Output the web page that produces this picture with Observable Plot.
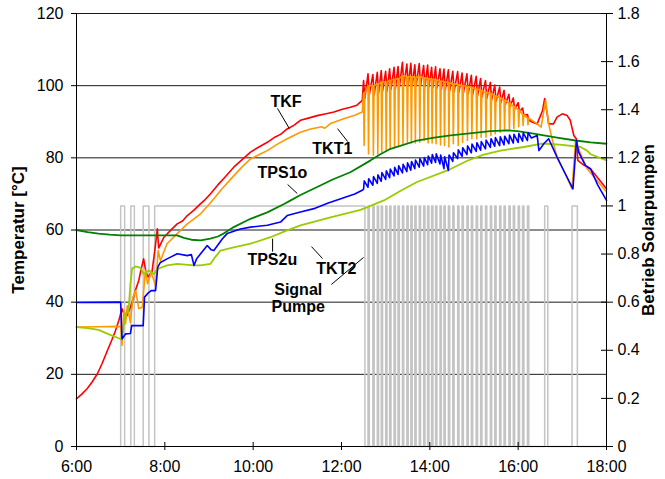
<!DOCTYPE html>
<html><head><meta charset="utf-8">
<script src="https://cdn.jsdelivr.net/npm/d3@7"></script>
<script src="https://cdn.jsdelivr.net/npm/@observablehq/plot@0.6"></script>
<style>body{margin:0;background:#fff}#chart{width:665px;height:479px}</style>
</head><body><div id="chart"></div>
<script>
// ---- axes ----
const xTicks = [6, 8, 10, 12, 14, 16, 18];
const xTickLabels = ["6:00", "8:00", "10:00", "12:00", "14:00", "16:00", "18:00"];
const yTicks = [0, 20, 40, 60, 80, 100, 120];
const rightTicks = [0, 0.2, 0.4, 0.6, 0.8, 1, 1.2, 1.4, 1.6, 1.8];
const rightTickLabels = ["0", "0.2", "0.4", "0.6", "0.8", "1", "1.2", "1.4", "1.6", "1.8"];
const leftMax = 120, rightMax = 1.8;

// ---- smooth parts of series [hour, °C] ----
const tkfBefore = [[6.00,13.2],[6.12,14.5],[6.24,16.0],[6.35,17.8],[6.47,20.1],[6.58,23.0],[6.70,26.6],[6.80,29.5],[6.88,32.0],[6.96,35.0],[7.03,38.2],[7.08,36.5],[7.15,36.3],[7.26,40.0],[7.34,43.5],[7.41,46.0],[7.47,49.5],[7.52,52.0],[7.57,48.5],[7.62,47.0],[7.71,48.5],[7.78,55.0],[7.83,60.3],[7.86,55.0],[7.92,56.5],[7.98,58.0],[8.13,59.9],[8.28,61.7],[8.40,62.5],[8.51,64.0],[8.66,65.5],[8.81,67.3],[8.92,68.5],[9.03,70.0],[9.20,72.5],[9.35,74.5],[9.56,77.4],[9.75,79.5],[9.94,81.6],[10.10,82.8],[10.32,84.3],[10.50,85.8],[10.62,86.5],[10.77,88.0],[10.92,89.0],[11.07,90.4],[11.25,91.0],[11.45,91.7],[11.65,92.2],[11.83,92.7],[12.00,93.4],[12.20,94.0],[12.35,94.6],[12.47,95.9]];
const tkfAfter = [[16.30,90.0],[16.43,89.4],[16.55,93.0],[16.60,96.4],[16.66,92.0],[16.69,89.4],[16.80,89.4],[16.88,91.3],[17.00,92.2],[17.11,91.7],[17.18,90.4],[17.26,86.2],[17.32,85.2],[17.35,79.3],[17.45,78.3],[17.64,76.9],[17.80,74.5],[18.00,71.4]];

const tkt1Before = [[6.00,33.1],[6.50,33.2],[7.00,33.3],[7.03,28.0],[7.07,37.7],[7.11,34.0],[7.15,39.0],[7.22,34.4],[7.28,41.4],[7.34,43.2],[7.41,38.2],[7.49,38.6],[7.56,48.8],[7.61,45.1],[7.69,48.3],[7.79,44.6],[7.85,54.3],[7.90,51.5],[8.05,56.2],[8.28,59.0],[8.51,61.7],[8.81,64.5],[9.03,67.5],[9.30,71.5],[9.56,75.0],[9.75,77.5],[9.94,79.7],[10.15,81.0],[10.32,82.0],[10.55,83.8],[10.77,85.3],[11.07,87.1],[11.30,88.0],[11.55,88.6],[11.62,88.2],[11.75,89.5],[12.05,90.8],[12.30,91.8],[12.47,92.7]];
const tkt1After = [[16.30,90.5],[16.43,89.4],[16.52,88.5],[16.58,93.0],[16.62,95.9],[16.69,89.4],[16.77,85.2],[16.88,80.2],[17.05,76.0],[17.22,71.4],[17.30,84.8],[17.35,83.0],[17.56,77.0],[17.80,73.5],[18.00,70.5]];

const tkt2Before = [[6.00,39.9],[7.00,40.0],[7.03,29.8],[7.11,31.2],[7.22,31.3],[7.25,33.5],[7.51,33.5],[7.54,41.4],[7.62,42.5],[7.69,43.2],[7.79,43.2],[7.84,49.7],[7.90,51.0],[8.05,52.0],[8.28,53.4],[8.51,52.9],[8.60,53.2],[8.66,50.2],[8.72,52.0],[8.81,53.4],[8.96,55.7],[9.05,54.5],[9.11,54.3],[9.18,55.5],[9.30,57.5],[9.41,59.0],[9.71,60.3],[9.94,60.8],[10.32,61.3],[10.62,62.2],[10.77,64.0],[11.07,65.0],[11.40,66.0],[11.70,67.5],[12.00,68.7],[12.30,70.0],[12.47,71.0]];
const tkt2After = [[16.30,85.5],[16.43,86.2],[16.47,82.0],[16.58,83.9],[16.69,85.3],[16.88,80.2],[17.05,76.0],[17.22,71.9],[17.24,71.4],[17.32,84.8],[17.37,81.6],[17.52,77.9],[17.64,76.9],[17.80,72.5],[18.00,68.2]];

const tps1o = [[6.00,60.0],[6.25,59.4],[6.50,59.0],[6.75,58.7],[7.00,58.5],[7.50,58.5],[8.00,58.5],[8.28,58.5],[8.43,57.8],[8.60,57.3],[8.81,57.1],[9.03,57.6],[9.20,58.2],[9.33,59.0],[9.56,60.8],[9.94,63.1],[10.32,64.9],[10.70,67.2],[10.85,68.2],[11.07,69.7],[11.45,71.9],[11.80,74.0],[12.20,76.0],[12.66,79.3],[12.88,81.0],[13.11,82.5],[13.33,83.3],[13.71,84.8],[14.10,85.6],[14.47,86.2],[14.90,86.8],[15.37,87.4],[15.75,87.6],[15.98,87.4],[16.35,86.7],[16.88,85.6],[17.30,84.8],[17.64,84.3],[18.00,83.9]];

const tps2u = [[6.00,33.1],[6.25,32.8],[6.50,32.3],[6.75,31.0],[7.00,29.8],[7.03,29.8],[7.07,33.5],[7.11,36.8],[7.18,38.0],[7.22,45.0],[7.26,49.3],[7.34,49.9],[7.45,49.5],[7.52,47.8],[7.64,48.8],[7.75,47.8],[7.83,49.2],[8.05,50.2],[8.28,50.6],[8.66,50.2],[8.81,50.2],[9.03,50.6],[9.14,52.5],[9.26,54.3],[9.56,55.2],[9.94,56.2],[10.39,58.0],[10.77,59.9],[11.07,61.3],[11.75,63.5],[12.43,65.6],[12.96,68.2],[13.33,70.8],[13.71,73.3],[14.40,76.5],[14.85,79.2],[15.20,80.8],[15.60,82.0],[16.13,83.0],[16.51,83.9],[16.66,83.9],[17.00,83.6],[17.41,83.0],[17.56,82.0],[17.64,81.0],[18.00,79.3]];

// ---- pump cycling 12:30 - 16:13 (one entry per cycle) ----
const cycleStart = [12.50,12.60,12.71,12.81,12.90,13.00,13.09,13.19,13.28,13.38,13.48,13.57,13.66,13.76,13.86,13.95,14.04,14.13,14.23,14.32,14.42,14.52,14.63,14.73,14.84,14.94,15.05,15.15,15.26,15.37,15.47,15.58,15.68,15.79,15.89,16.00,16.10,16.21];
const tkfHi  = [101.4,103.3,103.1,103.7,104.2,104.0,104.7,105.1,105.3,106.5,106.0,106.2,105.8,106.1,105.6,105.7,105.1,105.2,104.7,104.6,104.4,104.0,103.9,103.5,103.3,102.9,102.6,102.0,101.4,100.9,100.2,99.6,98.7,97.6,96.6,95.3,93.8,92.0];
const tkfLo  = [96.5,97.5,97.5,98.0,98.5,98.5,99.0,99.2,99.5,100.0,100.0,100.0,100.0,100.0,99.8,99.7,99.5,99.3,99.0,98.8,98.6,98.4,98.2,98.0,97.8,97.5,97.2,96.9,96.5,96.1,95.7,95.3,94.8,94.2,93.5,92.8,91.8,90.5];
const tkt1Hi = [98.0,100.0,100.0,100.5,101.0,101.0,101.5,101.8,102.0,102.8,102.5,102.5,102.3,102.5,102.2,102.0,101.8,101.7,101.3,101.1,100.8,100.5,100.3,100.0,99.8,99.5,99.1,98.7,98.2,97.8,97.2,96.7,96.0,95.2,94.3,93.3,92.0,91.0];
const tkt1Lo = [83.4,81.1,80.7,81.1,81.6,82.0,82.5,83.0,83.4,83.9,84.3,84.1,84.1,84.3,84.8,84.1,84.1,83.9,83.6,83.4,83.0,83.9,83.4,84.3,84.8,85.3,85.3,85.7,85.7,86.2,86.7,87.1,87.6,87.6,88.1,88.6,89.0,89.2];
const tkt2Lo = [71.3,71.8,72.4,72.9,73.5,74.0,74.5,75.0,75.4,75.8,76.2,76.6,77.0,77.4,77.7,78.1,78.5,78.7,78.3,77.0,76.5,79.0,79.8,80.4,80.9,81.4,81.8,82.1,82.5,82.9,83.2,83.4,83.6,83.9,84.1,84.3,84.6,84.8];
const tkt2Hi = [73.6,74.2,74.8,75.3,75.9,76.4,76.9,77.4,77.8,78.2,78.6,79.0,79.4,79.8,80.1,80.5,80.9,81.1,80.8,80.3,80.8,81.4,82.2,82.8,83.3,83.8,84.2,84.5,84.9,85.3,85.6,85.8,86.0,86.3,86.5,86.7,86.9,87.0];

// ---- pump signal (right axis, 0/1) ----
const pumpEarlyT = [6.00, 7.00, 7.09, 7.23, 7.31, 7.51, 7.64, 7.77];
const pumpEarlyV = [0, 1, 0, 1, 0, 1, 0, 1];
const pumpLateT = [16.60, 16.67, 17.22, 17.34, 18.00];
const pumpLateV = [1, 0, 1, 0, 0];
const pulseLen = 0.03;

// ---- labels ----
const labels = [
  {text: "TKF",   t: 10.39, v: 95.6},
  {text: "TKT1",  t: 11.34, v: 82.4},
  {text: "TPS1o", t: 10.10, v: 75.7},
  {text: "TKT2",  t: 11.43, v: 49.1},
  {text: "TPS2u", t: 9.87,  v: 51.6}
];
const pumpLabel = [{text: "Signal\nPumpe", t: 11.02, v: 41.2}];
const leaders = [
  {t1: 10.55, v1: 93.7, t2: 10.82, v2: 88.1},
  {t1: 11.91, v1: 88.1, t2: 12.14, v2: 84.5},
  {t1: 10.78, v1: 72.6, t2: 11.00, v2: 70.1},
  {t1: 11.57, v1: 52.1, t2: 11.32, v2: 55.4},
  {t1: 10.44, v1: 57.6, t2: 10.44, v2: 54.0},
  {t1: 11.77, v1: 44.9, t2: 12.50, v2: 52.4}
];

// ---- build series ----
const toRows = a => a.map(([t, v]) => ({t, v}));
const tkf = [...tkfBefore]; const tkt1 = [...tkt1Before]; const tkt2 = [...tkt2Before];
cycleStart.forEach((c, i) => {
  tkf.push([c, tkfHi[i]], [c + 0.03, tkfLo[i]]);
  tkt1.push([c, tkt1Hi[i]], [c + 0.012, tkt1Lo[i]], [c + 0.028, tkt1Hi[i]]);
  tkt2.push([c, tkt2Lo[i]], [c + 0.015, tkt2Hi[i]]);
});
tkf.push(...tkfAfter); tkt1.push(...tkt1After); tkt2.push(...tkt2After);

const pump = pumpEarlyT.map((t, i) => ({t, v: pumpEarlyV[i]}));
cycleStart.forEach((c, i) => {
  if (i > 0) pump.push({t: c, v: 1});
  pump.push({t: c + pulseLen, v: 0});
});
pumpLateT.forEach((t, i) => pump.push({t, v: pumpLateV[i]}));
const pumpRows = pump.map(d => ({t: d.t, v: d.v * leftMax / rightMax}));

const rightPos = rightTicks.map(d => d * leftMax / rightMax);
const rightLabel = v => rightTickLabels[rightPos.findIndex(p => Math.abs(p - v) < 1e-6)];
const xLabel = t => xTickLabels[xTicks.indexOf(t)];

const font = "'Liberation Sans', Arial, Helvetica, sans-serif";
const chart = Plot.plot({
  width: 665, height: 479,
  marginLeft: 76, marginRight: 59, marginTop: 13, marginBottom: 33,
  x: {domain: [6, 18]},
  y: {domain: [0, 120]},
  style: {fontFamily: font, fontSize: "16px", background: "#fff", color: "#000"},
  marks: [
    Plot.ruleY(yTicks.filter(d => d > 0), {stroke: "#1a1a1a", strokeWidth: 1}),
    Plot.line(pumpRows, {x: "t", y: "v", curve: "step-after", stroke: "#c4c4c4", strokeWidth: 1.5}),
    Plot.line(toRows(tkf), {x: "t", y: "v", stroke: "#ff0000", strokeWidth: 1.6}),
    Plot.line(toRows(tkt1), {x: "t", y: "v", stroke: "#ff9900", strokeWidth: 1.6}),
    Plot.line(toRows(tps2u), {x: "t", y: "v", stroke: "#99cc00", strokeWidth: 1.8}),
    Plot.line(toRows(tps1o), {x: "t", y: "v", stroke: "#008000", strokeWidth: 1.8}),
    Plot.line(toRows(tkt2), {x: "t", y: "v", stroke: "#0000ff", strokeWidth: 1.6}),
    Plot.ruleX([6, 18], {stroke: "#000", strokeWidth: 1}),
    Plot.ruleY([0], {stroke: "#000", strokeWidth: 1}),
    Plot.axisY({ticks: yTicks, tickSize: 5, tickPadding: 8, label: null, fontSize: 16}),
    Plot.axisY({anchor: "right", ticks: rightPos, tickSize: 12, dx: -6, tickFormat: () => "", label: null}),
    Plot.axisY({anchor: "right", ticks: rightPos, tickSize: 0, tickPadding: 11, tickFormat: rightLabel, label: null, fontSize: 16}),
    Plot.axisX({ticks: xTicks, tickSize: 8, dy: -4, tickFormat: () => "", label: null}),
    Plot.axisX({ticks: xTicks, tickSize: 0, tickPadding: 14, tickFormat: xLabel, label: null, fontSize: 16}),
    Plot.link(leaders, {x1: "t1", y1: "v1", x2: "t2", y2: "v2", stroke: "#000", strokeWidth: 1}),
    Plot.text(labels, {x: "t", y: "v", text: "text", textAnchor: "start", fontWeight: "bold", fontSize: 16, fill: "#000"}),
    Plot.text(pumpLabel, {x: "t", y: "v", text: "text", textAnchor: "middle", fontWeight: "bold", fontSize: 16, lineHeight: 1.05, fill: "#000"}),
    Plot.text(["Temperatur [°C]"], {frameAnchor: "left", dx: -58, rotate: -90, textAnchor: "middle", fontWeight: "bold", fontSize: 17, fill: "#000"}),
    Plot.text(["Betrieb Solarpumpen"], {frameAnchor: "right", dx: 42, rotate: -90, textAnchor: "middle", fontWeight: "bold", fontSize: 17, fill: "#000"})
  ]
});
document.getElementById("chart").appendChild(chart);
</script>
</body></html>
